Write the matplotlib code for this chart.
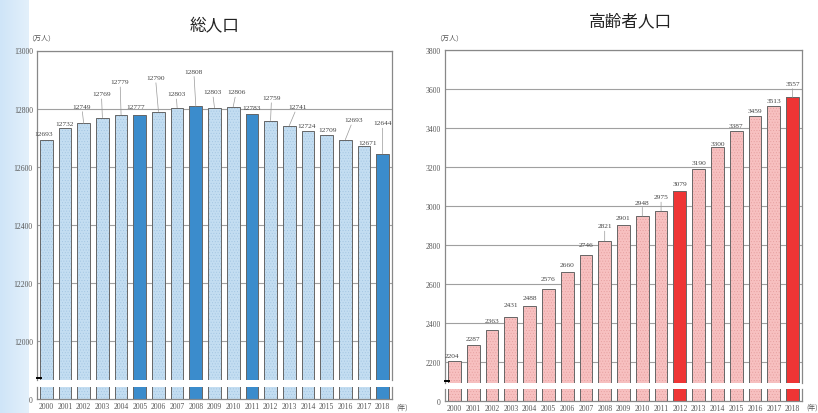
import numpy as np
import matplotlib
matplotlib.use("Agg")
import matplotlib.pyplot as plt

plt.rcParams['font.family'] = ['Noto Sans CJK JP', 'DejaVu Sans']
plt.rcParams['hatch.linewidth'] = 0.3

# ---- data ----
years = [str(y) for y in range(2000, 2019)]
total_pop = [12693, 12732, 12749, 12769, 12779, 12777, 12790, 12803, 12808, 12803,
             12806, 12783, 12759, 12741, 12724, 12709, 12693, 12671, 12644]
elderly_pop = [2204, 2287, 2363, 2431, 2488, 2576, 2660, 2746, 2821, 2901,
               2948, 2975, 3079, 3190, 3300, 3387, 3459, 3513, 3557]
total_highlight = ["2005", "2008", "2011", "2018"]
elderly_highlight = ["2012", "2018"]
total_ticks = [12000, 12200, 12400, 12600, 12800, 13000]
elderly_ticks = [2200, 2400, 2600, 2800, 3000, 3200, 3400, 3600, 3800]

# label offsets (pixels) from bar top
total_lab_dx = [-3, 0, -2, -1, -1, -4, -3, -1, -2, -2, 3, 0, 1, 8, -1, 1, 8, 4, 0]
total_lab_dy = [6, 5, 17, 24, 33, 9, 34, 14, 35, 16, 15, 6, 23, 19, 5, 6, 20, 4, 31]
eld_lab_dx = [-2, 0, 0, 0, 0, 0, 0, 0, 0, 0, 0, 0, 0, 0, 0, 0, 0, 0, 0]
eld_lab_dy = [6, 6, 10, 12, 8, 10, 8, 11, 15, 8, 14, 14, 7, 6, 4, 5, 6, 5, 14]

W, H = 818, 414
fig = plt.figure(figsize=(W / 100, H / 100), dpi=100)
fig.patch.set_facecolor("white")

# light blue strip at the left edge
strip = fig.add_axes([0, 0, 29 / W, 1])
grad = np.linspace(0, 1, 50).reshape(1, -1)
strip.imshow(grad, aspect="auto", cmap=matplotlib.colors.LinearSegmentedColormap.from_list(
    "s", ["#cfe5f8", "#e3f0fb"]), extent=[0, 1, 0, 1])
strip.axis("off")


def px_rect(x0, x1, y_top, y_bot):
    return [x0 / W, 1 - y_bot / H, (x1 - x0) / W, (y_bot - y_top) / H]


tick_font = dict(family="Liberation Serif", size=5.5, color="#555555")


def draw_chart(x0, x1, up_top, up_bot, lo_top, lo_bot, values, ticks, ylow,
               highlight, light, dark, hatch_col, dxs, dys, title, title_x, title_y):
    ax = fig.add_axes(px_rect(x0, x1, up_top, up_bot))
    axl = fig.add_axes(px_rect(x0, x1, lo_top, lo_bot))
    x = np.arange(len(years))
    hi = np.array([y in highlight for y in years])
    vals = np.array(values)
    for a, lim in ((ax, (ylow, ticks[-1])), (axl, (0, 100))):
        # light bars with a fine dotted texture
        a.bar(x[~hi], vals[~hi], width=0.68, color=light, edgecolor=hatch_col,
              hatch="......", linewidth=0, zorder=2)
        a.bar(x[hi], vals[hi], width=0.68, color=dark, linewidth=0, zorder=2)
        a.bar(x, vals, width=0.68, fill=False, edgecolor="#666666", linewidth=0.7, zorder=3)
        a.set_xlim(-0.5, len(years) - 0.5)
        a.set_ylim(*lim)
        for s in a.spines.values():
            s.set_color("#888888")
            s.set_linewidth(0.9)
        a.tick_params(length=0, pad=3)
        a.set_facecolor("none")
    ax.spines["bottom"].set_visible(False)
    axl.spines["top"].set_visible(False)
    ax.set_yticks(ticks)
    ax.set_yticklabels([str(t) for t in ticks], fontdict=tick_font)
    ax.set_xticks([])
    ax.grid(axis="y", color="#a0a0a0", linewidth=0.8, zorder=0)
    ax.set_axisbelow(True)
    axl.set_yticks([0])
    axl.set_yticklabels(["0"], fontdict=tick_font)
    axl.set_xticks(x)
    axl.set_xticklabels(years, fontdict=tick_font)
    axl.tick_params(axis="x", pad=2)
    # break mark
    ax.plot([-0.5, -0.3], [ylow + (ticks[-1] - ylow) * 0.006] * 2, color="black",
            lw=1.4, clip_on=False, zorder=5)
    # value labels
    for i, v in enumerate(values):
        kw = {}
        if dys[i] > 12:
            kw["arrowprops"] = dict(arrowstyle="-", color="#999999", lw=0.5,
                                    shrinkA=0, shrinkB=0)
        ax.annotate(str(v), xy=(i, v), xytext=(dxs[i], dys[i]), textcoords="offset pixels",
                    ha="center", va="center", fontsize=5.3, family="Liberation Serif",
                    color="#444444", zorder=6, **kw)
    fig.text(title_x / W, 1 - title_y / H, title, ha="center", va="center",
             fontsize=12, color="#222222")
    fig.text((x0 + 4) / W, 1 - 38 / H, "（万人）", ha="center", va="center",
             fontsize=5, color="#555555")
    fig.text((x1 + 4) / W, 1 - 408 / H, "(年)", ha="left", va="center",
             fontsize=5, color="#555555")


draw_chart(37, 392, 51.5, 381, 388, 400, total_pop, total_ticks, 11866,
           total_highlight, "#c3ddf1", "#3b8ccc", "#9ec2e0",
           total_lab_dx, total_lab_dy, "総人口", 215, 27)
draw_chart(445, 802, 51, 384, 390, 402, elderly_pop, elderly_ticks, 2092,
           elderly_highlight, "#f7c0c0", "#ee3535", "#e39a9a",
           eld_lab_dx, eld_lab_dy, "高齢者人口", 630, 22)

fig.savefig("out.png", dpi=100)
